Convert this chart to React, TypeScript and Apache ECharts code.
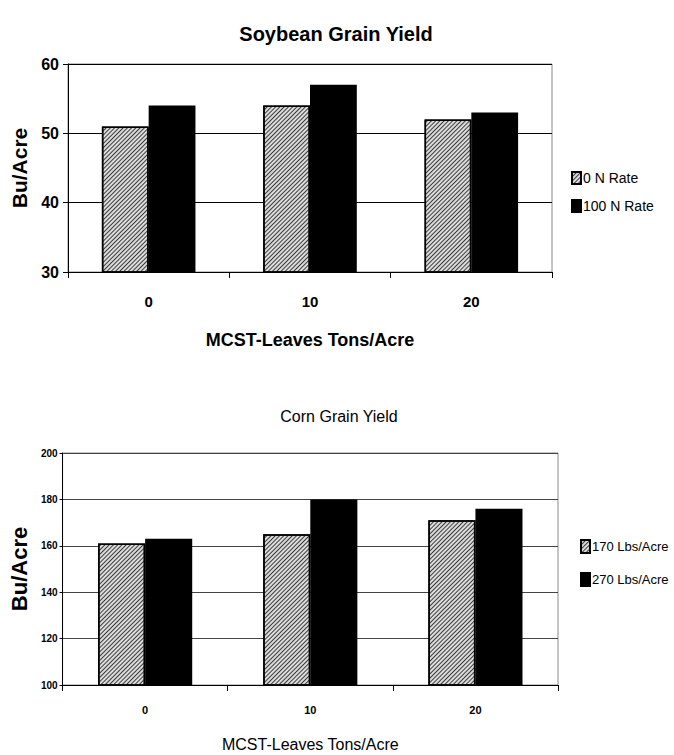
import React, { useEffect, useRef } from "react";
import * as echarts from "echarts";

const categories = ["0", "10", "20"];
const soyNames = ["0 N Rate", "100 N Rate"];
const soy0N = [51, 54, 52];
const soy100N = [54, 57, 53];
const cornNames = ["170 Lbs/Acre", "270 Lbs/Acre"];
const corn170 = [161, 165, 171];
const corn270 = [163, 180, 176];

const FONT = "'Liberation Sans', Arial, sans-serif";

const hatch = {
  symbol: "rect",
  symbolSize: 1,
  color: "rgba(30,30,30,0.85)",
  dashArrayX: [1, 0],
  dashArrayY: [1, 1.3],
  rotation: -Math.PI / 4,
};

export default function App() {
  const ref = useRef<HTMLDivElement>(null);
  useEffect(() => {
    const chart = echarts.init(ref.current!, null, { renderer: "svg" });
    const barBase = {
      type: "bar",
      barCategoryGap: "42%",
      barGap: "0%",
    };
    chart.setOption({
      animation: false,
      backgroundColor: "#ffffff",
      title: [
        {
          text: "Soybean Grain Yield",
          left: 331,
          top: 19,
          textAlign: "center",
          textStyle: { fontFamily: FONT, fontWeight: "bold", fontSize: 20, color: "#000" },
        },
        {
          text: "Corn Grain Yield",
          left: 334,
          top: 403,
          textAlign: "center",
          textStyle: { fontFamily: FONT, fontWeight: "normal", fontSize: 16, color: "#000" },
        },
      ],
      legend: [
        {
          data: soyNames,
          orient: "vertical",
          left: 566,
          top: 166,
          itemWidth: 9,
          itemHeight: 12,
          itemGap: 14,
          icon: "rect",
          textStyle: { fontFamily: FONT, fontSize: 14, color: "#000", padding: [0, 0, 0, -3] },
        },
        {
          data: cornNames,
          orient: "vertical",
          left: 575,
          top: 534,
          itemWidth: 9,
          itemHeight: 13,
          itemGap: 18,
          icon: "rect",
          textStyle: { fontFamily: FONT, fontSize: 13, color: "#000", padding: [0, 0, 0, -3] },
        },
      ],
      grid: [
        {
          left: 68,
          right: 122,
          top: 64,
          height: 208,
          show: true,
          borderColor: "#8a8a8a",
          borderWidth: 1,
        },
        {
          left: 52,
          right: 116,
          top: 453,
          height: 232,
          show: true,
          borderColor: "#8a8a8a",
          borderWidth: 1,
        },
      ],
      xAxis: [
        {
          gridIndex: 0,
          type: "category",
          data: categories,
          axisLine: { lineStyle: { color: "#000", width: 1 } },
          axisTick: { show: true, length: 6, lineStyle: { color: "#000" } },
          axisLabel: { margin: 22, fontFamily: FONT, fontWeight: "bold", fontSize: 15, color: "#000" },
          name: "MCST-Leaves Tons/Acre",
          nameLocation: "middle",
          nameGap: 59,
          nameTextStyle: { fontFamily: FONT, fontWeight: "bold", fontSize: 18, color: "#000" },
        },
        {
          gridIndex: 1,
          type: "category",
          data: categories,
          axisLine: { lineStyle: { color: "#000", width: 1 } },
          axisTick: { show: true, length: 6, lineStyle: { color: "#000" } },
          axisLabel: { margin: 19, fontFamily: FONT, fontWeight: "bold", fontSize: 11, color: "#000" },
          name: "MCST-Leaves Tons/Acre",
          nameLocation: "middle",
          nameGap: 51,
          nameTextStyle: { fontFamily: FONT, fontWeight: "normal", fontSize: 16, color: "#000" },
        },
      ],
      yAxis: [
        {
          gridIndex: 0,
          type: "value",
          min: 30,
          max: 60,
          interval: 10,
          axisLine: { show: true, lineStyle: { color: "#000", width: 1 } },
          axisTick: { show: true, length: 5, lineStyle: { color: "#000" } },
          axisLabel: { margin: 9, fontFamily: FONT, fontWeight: "bold", fontSize: 16, color: "#000" },
          splitLine: { show: true, lineStyle: { color: "#000", width: 1 } },
          name: "Bu/Acre",
          nameLocation: "middle",
          nameRotate: 90,
          nameGap: 36,
          nameTextStyle: { fontFamily: FONT, fontWeight: "bold", fontSize: 21, color: "#000" },
        },
        {
          gridIndex: 1,
          type: "value",
          min: 100,
          max: 200,
          interval: 20,
          axisLine: { show: true, lineStyle: { color: "#000", width: 1 } },
          axisTick: { show: true, length: 3, lineStyle: { color: "#000" } },
          axisLabel: { margin: 5, fontFamily: FONT, fontWeight: "bold", fontSize: 10, color: "#000" },
          splitLine: { show: true, lineStyle: { color: "#444", width: 1 } },
          name: "Bu/Acre",
          nameLocation: "middle",
          nameRotate: 90,
          nameGap: 22,
          nameTextStyle: { fontFamily: FONT, fontWeight: "bold", fontSize: 22, color: "#000" },
        },
      ],
      series: [
        {
          ...barBase,
          name: soyNames[0],
          xAxisIndex: 0,
          yAxisIndex: 0,
          data: soy0N,
          itemStyle: { color: "#dcdcdc", borderColor: "#000", borderWidth: 1.5, decal: hatch },
        },
        {
          ...barBase,
          name: soyNames[1],
          xAxisIndex: 0,
          yAxisIndex: 0,
          data: soy100N,
          itemStyle: { color: "#000", borderColor: "#000", borderWidth: 1.5 },
        },
        {
          ...barBase,
          barCategoryGap: "43%",
          name: cornNames[0],
          xAxisIndex: 1,
          yAxisIndex: 1,
          data: corn170,
          itemStyle: { color: "#dcdcdc", borderColor: "#000", borderWidth: 1.5, decal: hatch },
        },
        {
          ...barBase,
          barCategoryGap: "43%",
          name: cornNames[1],
          xAxisIndex: 1,
          yAxisIndex: 1,
          data: corn270,
          itemStyle: { color: "#000", borderColor: "#000", borderWidth: 1.5 },
        },
      ],
    });
    return () => chart.dispose();
  }, []);
  return (
    <div
      ref={ref}
      style={{ position: "absolute", left: 0, top: 0, width: 674, height: 755, background: "#fff" }}
    />
  );
}
